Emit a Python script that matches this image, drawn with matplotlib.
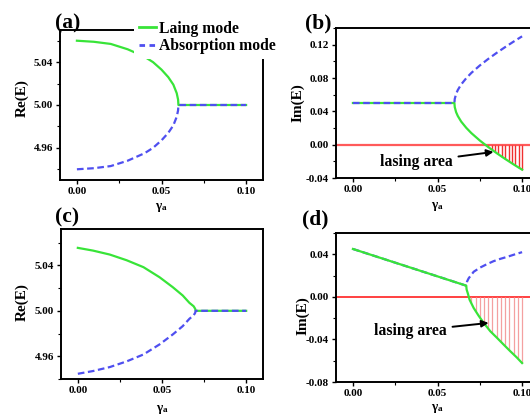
import numpy as np
import matplotlib
matplotlib.use("Agg")
import matplotlib.pyplot as plt
from matplotlib.lines import Line2D
from matplotlib.ticker import AutoMinorLocator, FormatStrFormatter

# values
gamma_a = [0, 0.01, 0.02, 0.03, 0.04, 0.045, 0.05, 0.054, 0.057, 0.059, 0.0598, 0.06,
           0.07, 0.08, 0.09, 0.10]
re_a_lasing = [5.060, 5.059, 5.057, 5.052, 5.045, 5.040, 5.033, 5.026, 5.019, 5.011, 5.005,
               5.000, 5.000, 5.000, 5.000, 5.000]
re_a_absorb = [4.940, 4.941, 4.943, 4.948, 4.955, 4.960, 4.967, 4.974, 4.981, 4.989, 4.995,
               5.000, 5.000, 5.000, 5.000, 5.000]

gamma_b = [0, 0.02, 0.04, 0.06, 0.0602, 0.061, 0.062, 0.064, 0.067, 0.07, 0.075, 0.08,
           0.085, 0.09, 0.095, 0.10]
im_b_lasing = [0.05, 0.05, 0.05, 0.05, 0.0451, 0.039, 0.0344, 0.0277, 0.0202, 0.0139,
               0.005, -0.0029, -0.0102, -0.0171, -0.0237, -0.030]
im_b_absorb = [0.05, 0.05, 0.05, 0.05, 0.0549, 0.061, 0.0656, 0.0723, 0.0798, 0.0861,
               0.095, 0.1029, 0.1102, 0.1171, 0.1237, 0.130]
hatch_b_gamma = [0.080, 0.082, 0.084, 0.086, 0.088, 0.090, 0.092, 0.094, 0.096, 0.098, 0.100]
hatch_b_im = [-0.0029, -0.0059, -0.0088, -0.0116, -0.0144, -0.0171, -0.0197, -0.0224,
              -0.0249, -0.0275, -0.030]

gamma_c = [0, 0.009, 0.019, 0.029, 0.039, 0.0485, 0.0564, 0.0623, 0.0663, 0.0688, 0.0697,
           0.070, 0.08, 0.09, 0.10]
re_c_lasing = [5.0554, 5.0530, 5.0495, 5.0445, 5.0384, 5.0296, 5.0208, 5.0135, 5.0070,
               5.0040, 5.0018, 5.0, 5.0, 5.0, 5.0]
re_c_absorb = [4.9446, 4.9470, 4.9505, 4.9555, 4.9616, 4.9704, 4.9792, 4.9865, 4.9930,
               4.9960, 4.9982, 5.0, 5.0, 5.0, 5.0]

gamma_d_lasing = [0, 0.02, 0.04, 0.06, 0.067, 0.0672, 0.0679, 0.069, 0.0714, 0.0743, 0.0773,
                  0.0812, 0.0851, 0.089, 0.0929, 0.0969, 0.10]
im_d_lasing = [0.045, 0.0347, 0.0244, 0.0141, 0.0105, 0.0070, 0.0034, -0.0028, -0.0105,
               -0.0177, -0.0245, -0.0323, -0.0384, -0.0447, -0.0509, -0.0570, -0.0622]
gamma_d_absorb = [0, 0.067, 0.0675, 0.0684, 0.0714, 0.0753, 0.0792, 0.0831, 0.0871, 0.091,
                  0.0959, 0.10]
im_d_absorb = [0.045, 0.0105, 0.0145, 0.0174, 0.0236, 0.0276, 0.0307, 0.0335, 0.0357,
               0.0375, 0.0400, 0.0420]
hatch_d_gamma = [0.070, 0.0725, 0.075, 0.0775, 0.080, 0.0825, 0.085, 0.0875, 0.090, 0.0925,
                 0.095, 0.0975, 0.100]
hatch_d_im = [-0.0060, -0.0132, -0.0193, -0.0249, -0.0299, -0.0343, -0.0382, -0.0423,
              -0.0463, -0.0503, -0.0541, -0.0579, -0.0618]

labels = ['Laing mode', 'Absorption mode']

GREEN = '#38e438'
BLUE = '#4f4ff0'

plt.rcParams['font.family'] = ['Liberation Serif', 'DejaVu Serif']
plt.rcParams['font.weight'] = 'bold'
plt.rcParams['axes.unicode_minus'] = False
plt.rcParams['mathtext.fontset'] = 'custom'
plt.rcParams['mathtext.rm'] = 'Liberation Serif:bold'
plt.rcParams['mathtext.it'] = 'Liberation Serif:bold'

W, H = 530, 418
fig = plt.figure(figsize=(W / 100, H / 100), dpi=100)


def px_axes(left, top, right, bottom):
    return fig.add_axes([left / W, 1 - bottom / H, (right - left) / W, (bottom - top) / H])


def style(ax, ylim, yticks, ylabel, ylab_xy, xlab_xy):
    ax.set_xlim(-0.01, 0.11)
    ax.set_ylim(*ylim)
    ax.set_xticks([0, 0.05, 0.10])
    ax.set_yticks(yticks)
    ax.xaxis.set_major_formatter(FormatStrFormatter('%.2f'))
    ax.yaxis.set_major_formatter(FormatStrFormatter('%.2f'))
    ax.xaxis.set_minor_locator(AutoMinorLocator(2))
    ax.yaxis.set_minor_locator(AutoMinorLocator(2))
    ax.tick_params(which='major', direction='out', length=3, width=1, labelsize=8, pad=2)
    ax.tick_params(which='minor', direction='out', length=2, width=0.8)
    for s in ax.spines.values():
        s.set_linewidth(1.4)
    ax.set_ylabel(ylabel, fontsize=11, fontweight='bold')
    ax.yaxis.label.set_va('center')
    ax.yaxis.set_label_coords(*ylab_xy)
    ax.set_xlabel(r'$\mathrm{γ_a}$', fontsize=9.5)
    ax.xaxis.label.set_va('center')
    ax.xaxis.set_label_coords(*xlab_xy)


def dashed(ax, x, y, z=3):
    ax.plot(x, y, color=BLUE, lw=1.6, dashes=(3, 1.6), zorder=z)


# (a)
ax_a = px_axes(60, 30, 263, 180)
ax_a.plot(gamma_a, re_a_lasing, color=GREEN, lw=1.6, zorder=2)
dashed(ax_a, gamma_a, re_a_absorb)
style(ax_a, (4.93, 5.07), [4.96, 5.00, 5.04], 'Re(E)', (-0.185, 0.547), (0.502, -0.18))
handles = [Line2D([], [], color=GREEN, lw=2),
           Line2D([], [], color=BLUE, lw=2, dashes=(2, 1.6))]
leg = ax_a.legend(handles, labels, loc='upper left', bbox_to_anchor=(134 / W, 1 - 16 / H),
                  bbox_transform=fig.transFigure, frameon=True, facecolor='white',
                  edgecolor='none', framealpha=1, fancybox=False, borderpad=0.3,
                  borderaxespad=0, handlelength=1.1, handletextpad=0.2, labelspacing=0.1,
                  prop={'size': 11.3, 'weight': 'bold'})
leg.set_zorder(10)

# (b)
ax_b = px_axes(336, 28, 539, 178)
ax_b.axhline(0, color='#ff5a5a', lw=1.6, zorder=1)
ax_b.vlines(hatch_b_gamma, hatch_b_im, 0, color='#f03030', lw=1, zorder=1)
ax_b.plot(gamma_b, im_b_lasing, color=GREEN, lw=1.6, zorder=2)
dashed(ax_b, gamma_b, im_b_absorb)
style(ax_b, (-0.04, 0.14), [-0.04, 0.00, 0.04, 0.08, 0.12], 'Im(E)', (-0.19, 0.503),
      (0.5, -0.187))
ax_b.annotate('lasing area', xy=(0.0831, -0.0087), xytext=(0.0376, -0.0208),
              fontsize=11.3, fontweight='bold', ha='center', va='center',
              arrowprops=dict(arrowstyle='-|>', color='black', lw=1.4,
                              mutation_scale=10, shrinkA=2, shrinkB=0))

# (c)
ax_c = px_axes(61, 229, 263, 379)
ax_c.plot(gamma_c, re_c_lasing, color=GREEN, lw=1.6, zorder=2)
dashed(ax_c, gamma_c, re_c_absorb)
style(ax_c, (4.94, 5.072), [4.96, 5.00, 5.04], 'Re(E)', (-0.193, 0.513), (0.5, -0.2))

# (d)
ax_d = px_axes(336, 233, 539, 382)
ax_d.axhline(0, color='#ff2020', lw=1.2, zorder=1)
ax_d.vlines(hatch_d_gamma, hatch_d_im, 0, color='#f4a0a0', lw=0.9, zorder=1)
dashed(ax_d, gamma_d_absorb, im_d_absorb, z=2)
ax_d.plot(gamma_d_lasing, im_d_lasing, color=GREEN, lw=1.6, zorder=3)
style(ax_d, (-0.08, 0.06), [-0.08, -0.04, 0.00, 0.04], 'Im(E)', (-0.165, 0.443),
      (0.5, -0.175))
ax_d.annotate('lasing area', xy=(0.0802, -0.0245), xytext=(0.0341, -0.0323),
              fontsize=11.3, fontweight='bold', ha='center', va='center',
              arrowprops=dict(arrowstyle='-|>', color='black', lw=1.4,
                              mutation_scale=10, shrinkA=2, shrinkB=0))

# panel tags
for tag, x, y in [('(a)', 55, 23.5), ('(b)', 305.5, 23.5), ('(c)', 55, 217.5), ('(d)', 302, 219)]:
    fig.text(x / W, 1 - y / H, tag, fontsize=15.5, fontweight='bold', ha='left', va='center')

fig.savefig('out.png', dpi=100)
